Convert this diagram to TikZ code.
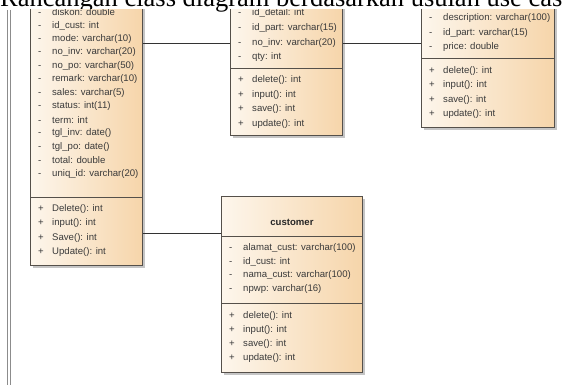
\documentclass[tikz,border=0pt]{standalone}
\usepackage{fontspec}
\setmainfont{Liberation Serif}
\newfontfamily\umlfont{Liberation Sans}
\usetikzlibrary{positioning,calc,shadows}

\definecolor{umlleft}{HTML}{FDF6EC}
\definecolor{umlright}{HTML}{F6D5AA}
\definecolor{umlline}{HTML}{55504A}
\definecolor{umltext}{HTML}{3A3A3A}

\tikzset{
  classbox/.style={rectangle, draw=umlline, line width=0.9pt, inner sep=0pt,
    anchor=north west, left color=umlleft, right color=umlright,
    drop shadow={shadow xshift=2.5pt, shadow yshift=-2.5pt, fill=black!45}},
  sepline/.style={draw=umlline, line width=0.9pt},
  conn/.style={draw=black!80, line width=0.8pt},
  frameline/.style={draw=black!45, line width=0.9pt},
  row/.style={anchor=west, inner sep=0pt, text=umltext,
    font=\umlfont\fontsize{9.6}{11}\selectfont},
  classname/.style={inner sep=0pt, text=black!85,
    font=\umlfont\bfseries\fontsize{9.6}{11}\selectfont},
}
\newcommand{\priv}{\makebox[14pt][l]{-}}
\newcommand{\publ}{\makebox[14pt][l]{+}}

\begin{document}
\begin{tikzpicture}[x=1pt, y=-1pt]
  \useasboundingbox (0,0) rectangle (569,385);

  % caption above the diagram
  \node (title) [anchor=base west, inner sep=0pt, font=\fontsize{26.5}{30}\selectfont]
    at (0,7) {Rancangan class diagram berdasarkan usulan use cas};

  \begin{scope}
  \clip (0,10) rectangle (569,385);

  \draw[frameline] (7,10) -- (7,385);
  \draw[frameline] (10,10) -- (10,385);

  % classes
  \node (invoice)  [classbox, minimum width=112, minimum height=305] at (30,-40) {};
  \node (detail)   [classbox, minimum width=112, minimum height=175] at (230,-40) {};
  \node (part)     [classbox, minimum width=133, minimum height=167] at (421,-40) {};
  \node (customer) [classbox, minimum width=141, minimum height=176] at (221,196) {};

  % connectors
  \draw[conn] (invoice.east |- 0,43) -- (detail.west |- 0,43);
  \draw[conn] (detail.east |- 0,43) -- (part.west |- 0,43);
  \draw[conn] (invoice.east |- 0,233) -- (customer.west |- 0,233);

  % invoice
  \node (i01) [row] at (38,12)    {\priv diskon: double};
  \node (i02) [row] at (38,25.5)  {\priv id\_cust: int};
  \node (i03) [row] at (38,39)    {\priv mode: varchar(10)};
  \node (i04) [row] at (38,52.5)  {\priv no\_inv: varchar(20)};
  \node (i05) [row] at (38,66)    {\priv no\_po: varchar(50)};
  \node (i06) [row] at (38,79.5)  {\priv remark: varchar(10)};
  \node (i07) [row] at (38,93)    {\priv sales: varchar(5)};
  \node (i08) [row] at (38,106.5) {\priv status: int(11)};
  \node (i09) [row] at (38,120)   {\priv term: int};
  \node (i10) [row] at (38,133.5) {\priv tgl\_inv: date()};
  \node (i11) [row] at (38,147)   {\priv tgl\_po: date()};
  \node (i12) [row] at (38,160.5) {\priv total: double};
  \node (i13) [row] at (38,174)   {\priv uniq\_id: varchar(20)};
  \draw[sepline] (invoice.west |- 0,197) -- (invoice.east |- 0,197);
  \node (i14) [row] at (38,209)   {\publ Delete(): int};
  \node (i15) [row] at (38,223.3) {\publ input(): int};
  \node (i16) [row] at (38,237.6) {\publ Save(): int};
  \node (i17) [row] at (38,252)   {\publ Update(): int};

  % detail
  \node (d01) [row] at (238,13.3) {\priv id\_detail: int};
  \node (d02) [row] at (238,28)   {\priv id\_part: varchar(15)};
  \node (d03) [row] at (238,42.7) {\priv no\_inv: varchar(20)};
  \node (d04) [row] at (238,57.3) {\priv qty: int};
  \draw[sepline] (detail.west |- 0,68) -- (detail.east |- 0,68);
  \node (d05) [row] at (238,80)   {\publ delete(): int};
  \node (d06) [row] at (238,95)   {\publ input(): int};
  \node (d07) [row] at (238,109.5) {\publ save(): int};
  \node (d08) [row] at (238,124)  {\publ update(): int};

  % part
  \node (p01) [row] at (429,18)   {\priv description: varchar(100)};
  \node (p02) [row] at (429,33)   {\priv id\_part: varchar(15)};
  \node (p03) [row] at (429,47.5) {\priv price: double};
  \draw[sepline] (part.west |- 0,58) -- (part.east |- 0,58);
  \node (p04) [row] at (429,71)   {\publ delete(): int};
  \node (p05) [row] at (429,85.5) {\publ input(): int};
  \node (p06) [row] at (429,100)  {\publ save(): int};
  \node (p07) [row] at (429,114.5) {\publ update(): int};

  % customer
  \node (c00) [classname] at (customer.north |- 0,222) {customer};
  \draw[sepline] (customer.west |- 0,236) -- (customer.east |- 0,236);
  \node (c01) [row] at (229,248.5) {\priv alamat\_cust: varchar(100)};
  \node (c02) [row] at (229,262)   {\priv id\_cust: int};
  \node (c03) [row] at (229,275.5) {\priv nama\_cust: varchar(100)};
  \node (c04) [row] at (229,289)   {\priv npwp: varchar(16)};
  \draw[sepline] (customer.west |- 0,303) -- (customer.east |- 0,303);
  \node (c05) [row] at (229,316)   {\publ delete(): int};
  \node (c06) [row] at (229,330)   {\publ input(): int};
  \node (c07) [row] at (229,344)   {\publ save(): int};
  \node (c08) [row] at (229,358)   {\publ update(): int};
  \end{scope}
\end{tikzpicture}
\end{document}
